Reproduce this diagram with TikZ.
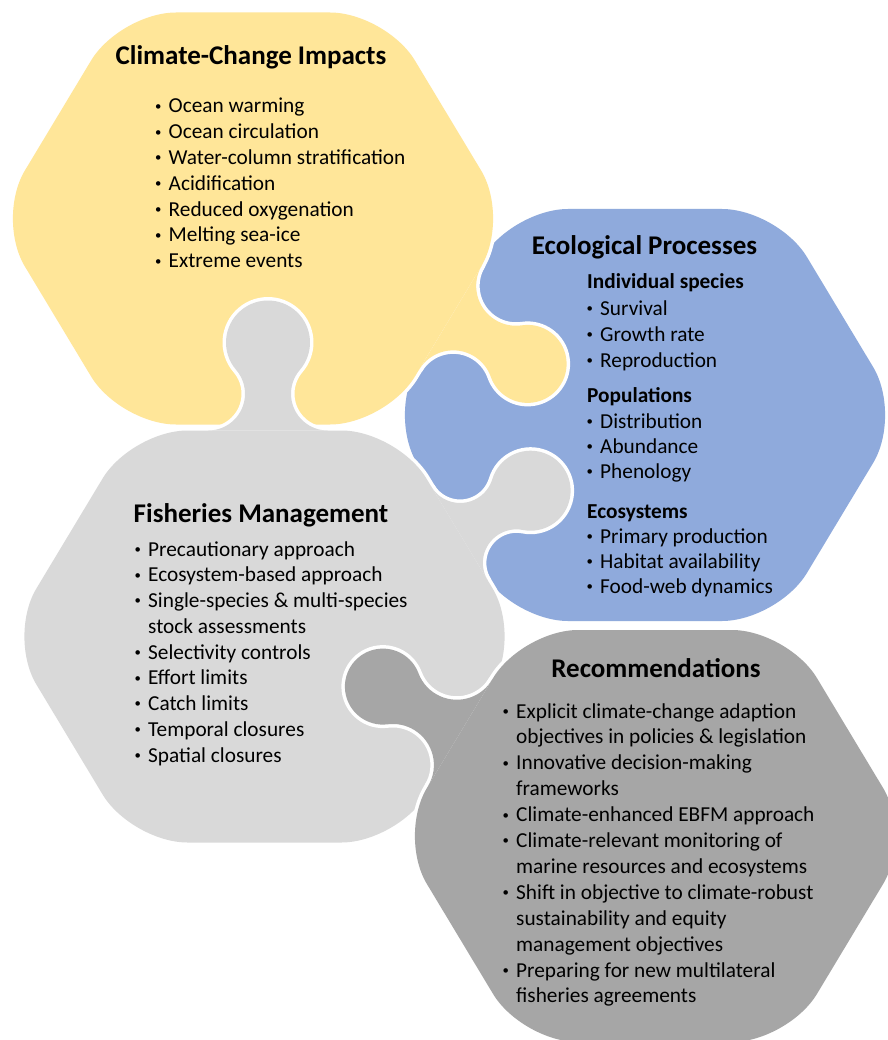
\documentclass[tikz,border=0pt]{standalone}
\usepackage{fontspec}
\setmainfont{Carlito}

\definecolor{impact}{HTML}{FFE699}
\definecolor{ecol}{HTML}{8FAADC}
\definecolor{fish}{HTML}{D9D9D9}
\definecolor{recom}{HTML}{A6A6A6}

% small bullet hanging to the left of the item text
\newcommand\bl{\llap{\makebox[0pt]{\raisebox{2.6pt}{\scalebox{0.6}{•}}}\hspace{10.5pt}}}

% rounded hexagon centred at (#2,#3), pointy left and right
\newcommand\hexagon[3][]{%
  \path[#1, rounded corners=56pt]
    (#2,#3-206) -- (#2+133,#3-206) -- (#2+257,#3) -- (#2+133,#3+206)
    -- (#2-133,#3+206) -- (#2-257,#3) -- (#2-133,#3-206) -- cycle;}

% puzzle knob standing on an edge at (#2,#3), pointing at angle #4;
% #5 distance of the ball centre from the edge, #6 ball radius, #7 neck half-width
\newcommand\knob[7][]{%
  \pgfmathsetmacro\kc{cos(#4)}\pgfmathsetmacro\ks{sin(#4)}%
  \pgfmathsetmacro\knc{-cos(#4)}\pgfmathsetmacro\kns{-sin(#4)}%
  \pgfmathsetmacro\kA{#5+#6-#7}%
  \pgfmathsetmacro\krho{\kA-sqrt(\kA*\kA-(#7*#7+#5*#5-#6*#6))}%
  \pgfmathsetmacro\kw{\krho+#7}%
  \pgfmathsetmacro\kal{atan2(#5-\krho,\kw)}%
  \path[#1, shift={(#2,#3)}, x={(\kns pt,\knc pt)}, y={(\kc pt,\kns pt)}]
    (-\kw,0) arc[start angle=-90, end angle=\kal, radius=\krho]
    arc[start angle=\kal+180, end angle=-\kal, radius=#6]
    arc[start angle=180-\kal, end angle=270, radius=\krho] -- cycle;}

\tikzset{
  body/.style={anchor=base west, inner sep=0pt, font=\fontsize{21.3}{25}\selectfont},
  head/.style={anchor=base west, inner sep=0pt, font=\fontsize{21.3}{25}\selectfont\bfseries},
  title/.style={anchor=base, inner sep=0pt, font=\fontsize{27}{32}\selectfont\bfseries},
  rim/.style={draw=white, line width=7pt, line join=round},
}

\begin{document}
\begin{tikzpicture}[x=1pt, y=-1pt]
\fill[white] (0,0) rectangle (887,1040);
\useasboundingbox (0,0) rectangle (887,1040);

% Ecological processes
\hexagon[fill=ecol]{645}{415}

% Climate-change impacts, knob into the ecological piece
\hexagon[rim]{253}{218.5}
\knob[rim]{450.5}{317.5}{31.04}{90}{39}{21}
\hexagon[fill=impact]{253}{218.5}
\knob[fill=impact]{450.5}{317.5}{31.04}{90}{39}{21}

% Fisheries management, knobs up and to the right
\hexagon[rim]{264.5}{636.5}
\knob[rim]{268}{430.5}{-90}{88}{42}{23}
\knob[rim]{459.5}{533.5}{-31.04}{83}{40}{21}
\hexagon[fill=fish]{264.5}{636.5}
\knob[fill=fish]{268}{430.5}{-90}{88}{42}{23}
\knob[fill=fish]{459.5}{533.5}{-31.04}{83}{40}{21}

% Recommendations, knob into fisheries management
\hexagon[rim]{655}{836}
\knob[rim]{460}{733}{211.04}{90}{38}{21}
\hexagon[fill=recom]{655}{836}
\knob[fill=recom]{460}{733}{211.04}{90}{38}{21}

% texts
\node[title] (cct) at (251,65) {Climate-Change Impacts};
\foreach \txt [count=\i from 0] in {Ocean warming, Ocean circulation,
    Water-column stratification, Acidification, Reduced oxygenation,
    Melting sea-ice, Extreme events}
  \node[body] (cc\i) at (168.5,113+25.8*\i) {\bl\txt};

\node[title] (ept) at (644.5,255) {Ecological Processes};
\node[head] (eph1) at (587,289) {Individual species};
\node[body] (ep1) at (600,315) {\bl Survival};
\node[body] (ep2) at (600,341) {\bl Growth rate};
\node[body] (ep3) at (600,367) {\bl Reproduction};
\node[head] (eph2) at (587,402) {Populations};
\node[body] (ep4) at (600,428) {\bl Distribution};
\node[body] (ep5) at (600,453) {\bl Abundance};
\node[body] (ep6) at (600,478) {\bl Phenology};
\node[head] (eph3) at (587,518) {Ecosystems};
\node[body] (ep7) at (600,543) {\bl Primary production};
\node[body] (ep8) at (600,568) {\bl Habitat availability};
\node[body] (ep9) at (600,593) {\bl Food-web dynamics};

\node[title] (fmt) at (261,522) {Fisheries Management};
\foreach \bb/\txt [count=\i from 0] in {1/Precautionary approach,
    1/Ecosystem-based approach, 1/Single-species \& multi-species,
    0/stock assessments, 1/Selectivity controls, 1/Effort limits,
    1/Catch limits, 1/Temporal closures, 1/Spatial closures}
  \node[body] (fm\i) at (148,556+25.75*\i) {\ifnum\bb=1 \bl\fi\txt};

\node[title] (rct) at (656,677) {Recommendations};
\foreach \bb/\txt [count=\i from 0] in {1/Explicit climate-change adaption,
    0/objectives in policies \& legislation, 1/Innovative decision-making,
    0/frameworks, 1/Climate-enhanced EBFM approach,
    1/Climate-relevant monitoring of, 0/marine resources and ecosystems,
    1/Shift in objective to climate-robust, 0/sustainability and equity,
    0/management objectives, 1/Preparing for new multilateral,
    0/fisheries agreements}
  \node[body] (rc\i) at (516,718+25.9*\i) {\ifnum\bb=1 \bl\fi\txt};
\end{tikzpicture}
\end{document}
